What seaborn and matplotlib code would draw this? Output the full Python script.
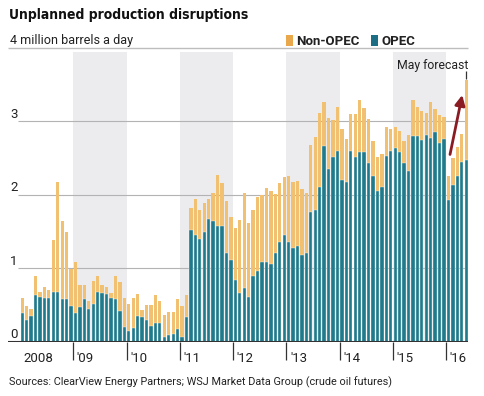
import numpy as np
import pandas as pd
import matplotlib
matplotlib.use("Agg")
import matplotlib.pyplot as plt
from matplotlib.patches import Rectangle
from matplotlib import font_manager
import seaborn as sns

# ---- data (million barrels a day), monthly Jan 2008 - May 2016 ----
years = ["2008", "'09", "'10", "'11", "'12", "'13", "'14", "'15", "'16"]
legend_labels = ["Non-OPEC", "OPEC"]

total_2008 = [0.59, 0.49, 0.44, 0.89, 0.68, 0.74, 0.70, 1.39, 2.18, 1.64, 1.49, 0.99]
opec_2008 = [0.39, 0.30, 0.35, 0.64, 0.61, 0.59, 0.59, 0.68, 0.68, 0.58, 0.58, 0.49]
total_2009 = [1.08, 0.77, 0.77, 0.55, 0.82, 0.89, 0.77, 0.75, 0.66, 0.89, 0.81, 0.59]
opec_2009 = [0.39, 0.47, 0.58, 0.45, 0.51, 0.68, 0.67, 0.65, 0.59, 0.58, 0.42, 0.20]
total_2010 = [0.52, 0.59, 0.65, 0.43, 0.50, 0.50, 0.64, 0.56, 0.36, 0.40, 0.40, 0.58]
opec_2010 = [0.14, 0.19, 0.35, 0.33, 0.30, 0.21, 0.25, 0.25, 0.07, 0.09, 0.10, 0.17]
total_2011 = [0.48, 0.63, 1.82, 1.95, 1.79, 1.89, 1.95, 2.02, 2.27, 2.16, 1.91, 1.70]
opec_2011 = [0.06, 0.34, 1.52, 1.45, 1.40, 1.49, 1.67, 1.64, 1.58, 1.57, 1.21, 1.11]
total_2012 = [1.55, 1.66, 2.03, 1.61, 1.80, 1.97, 2.00, 2.09, 2.05, 2.01, 2.16, 2.24]
opec_2012 = [0.84, 0.67, 0.73, 0.61, 0.89, 0.96, 1.08, 1.08, 1.06, 1.21, 1.36, 1.45]
total_2013 = [2.25, 2.17, 2.19, 2.08, 2.02, 2.68, 2.79, 3.12, 3.26, 3.05, 3.02, 3.20]
opec_2013 = [1.36, 1.27, 1.30, 1.18, 1.21, 1.77, 1.79, 2.11, 2.67, 2.35, 2.52, 2.60]
total_2014 = [2.90, 2.76, 3.10, 3.10, 3.29, 3.18, 3.03, 2.74, 2.52, 2.55, 2.93, 2.90]
opec_2014 = [2.20, 2.17, 2.60, 2.51, 2.59, 2.59, 2.44, 2.25, 2.05, 2.11, 2.53, 2.60]
total_2015 = [2.93, 2.87, 2.74, 2.82, 3.29, 3.20, 3.14, 3.12, 3.26, 3.17, 3.09, 3.06]
opec_2015 = [2.64, 2.58, 2.43, 2.33, 2.80, 2.80, 2.75, 2.82, 2.78, 2.85, 2.70, 2.76]
total_2016 = [2.25, 2.50, 2.65, 2.83, 3.57]
opec_2016 = [1.93, 2.14, 2.26, 2.45, 2.47]

total = (total_2008 + total_2009 + total_2010 + total_2011 + total_2012
         + total_2013 + total_2014 + total_2015 + total_2016)
opec = (opec_2008 + opec_2009 + opec_2010 + opec_2011 + opec_2012
        + opec_2013 + opec_2014 + opec_2015 + opec_2016)
months = [f"{2008 + i // 12}-{i % 12 + 1:02d}" for i in range(len(total))]
df = pd.DataFrame({"month": months, "total": total, "opec": opec})

# ---- style ----
sns.set_theme(style="white")
plt.rcParams["font.family"] = ["Roboto", "DejaVu Sans"]

# title font: prefer a bold narrow/condensed face if one is installed
title_kw = dict(family=["Roboto", "DejaVu Sans"], fontweight="heavy", fontsize=10.6)
for f in font_manager.fontManager.ttflist:
    fn = f.fname.lower()
    if ("narrow" in fn or "condensed" in fn) and "bold" in fn and "italic" not in fn \
            and "oblique" not in fn:
        size = 12.3 if "narrow" in fn else 10.0
        title_kw = dict(fontproperties=font_manager.FontProperties(fname=f.fname, size=size))
        break

W, H = 485, 396
NONOPEC_C = "#f1c070"
OPEC_C = "#1f7a8c"
GRID_C = "#b3b3b3"
SHADE_C = "#ececee"
TEXT_C = "#222222"

fig = plt.figure(figsize=(W / 100, H / 100), dpi=100)
fig.patch.set_facecolor("white")
ax = fig.add_axes([8 / W, (H - 341.7) / H, 460 / W, (341.7 - 48) / H])
ax.set_facecolor("white")

# alternating year shading
for k in (1, 3, 5, 7):
    ax.add_patch(Rectangle((12 * k - 0.5, 0), 12, 3.95, facecolor=SHADE_C,
                           edgecolor="none", zorder=0))

# gridlines
ax.hlines([1, 2, 3], -0.95, 100.4, color=GRID_C, lw=0.8, zorder=1)
ax.hlines(4, -3.2, 100.4, color="#bdbdbd", lw=1.0, zorder=1, clip_on=False)

# stacked bars: total height (non-OPEC on top) then OPEC part
sns.barplot(data=df, x="month", y="total", order=months, color=NONOPEC_C,
            width=0.74, saturation=1, edgecolor="none", linewidth=0,
            ax=ax, zorder=2)
sns.barplot(data=df, x="month", y="opec", order=months, color=OPEC_C,
            width=0.74, saturation=1, edgecolor="white", linewidth=0.25,
            ax=ax, zorder=3)

ax.set_xlim(-3.2, 100.4)
ax.set_ylim(0, 4)
ax.set_xlabel("")
ax.set_ylabel("")
for s in ax.spines.values():
    s.set_visible(False)
ax.axhline(0, xmin=0, xmax=1, color="#333333", lw=1.5, zorder=5)

# year ticks and labels
bounds = [12 * k - 0.5 for k in range(1, 9)]
ax.set_xticks(bounds)
ax.set_xticklabels([""] * len(bounds))
ax.tick_params(axis="x", which="both", direction="out", length=13,
               width=0.9, color="#333333", bottom=True, pad=0)
ax.set_yticks([])
ytext = -(362 - 341.7) / (341.7 - 48)
for k, lab in enumerate(years):
    x0 = 12 * k - 0.5 + (0.7 if k == 0 else 0.8)
    ax.text(x0, ytext, lab, transform=ax.get_xaxis_transform(), ha="left",
            va="baseline", fontsize=9.5, color=TEXT_C, clip_on=False)

# y labels
for v in [0, 1, 2, 3]:
    ax.text(-2.75, v + 0.05, str(v), ha="left", va="baseline", fontsize=9.5,
            color=TEXT_C, clip_on=False)
ax.text(-2.75, 4.05, "4 million barrels a day", ha="left", va="baseline",
        fontsize=9.1, color=TEXT_C, clip_on=False)

# title & source
fig.text(9 / W, 1 - 18.5 / H, "Unplanned production disruptions",
         color="#111111", ha="left", va="baseline", **title_kw)
fig.text(9 / W, 1 - 385 / H,
         "Sources: ClearView Energy Partners; WSJ Market Data Group (crude oil futures)",
         fontsize=7.8, color=TEXT_C, ha="left", va="baseline")

# legend
fig.patches.append(Rectangle((286 / W, 1 - 46 / H), 7 / W, 11 / H,
                             transform=fig.transFigure, facecolor="#eaa84c",
                             edgecolor="none"))
fig.text(296 / W, 1 - 45 / H, legend_labels[0], fontsize=9.5, fontweight="bold",
         color=TEXT_C, ha="left", va="baseline")
fig.patches.append(Rectangle((371 / W, 1 - 46 / H), 7 / W, 11 / H,
                             transform=fig.transFigure, facecolor="#1c6e84",
                             edgecolor="none"))
fig.text(382 / W, 1 - 45 / H, legend_labels[1], fontsize=9.5, fontweight="bold",
         color=TEXT_C, ha="left", va="baseline")

# forecast annotation
ax.text(100.4, 3.72, "May forecast", ha="right", va="baseline", fontsize=8.8,
        color=TEXT_C, clip_on=False)
ax.vlines(100, 3.58, 3.68, color="#333333", lw=0.9, zorder=6)
ax.annotate("", xy=(99.1, 3.36), xytext=(96.35, 2.55),
            arrowprops=dict(arrowstyle="-|>,head_length=0.5,head_width=0.25",
                            color="#8a1b22", lw=2.0, shrinkA=0, shrinkB=0),
            zorder=7)

fig.savefig("out.png", dpi=100, facecolor="white")
